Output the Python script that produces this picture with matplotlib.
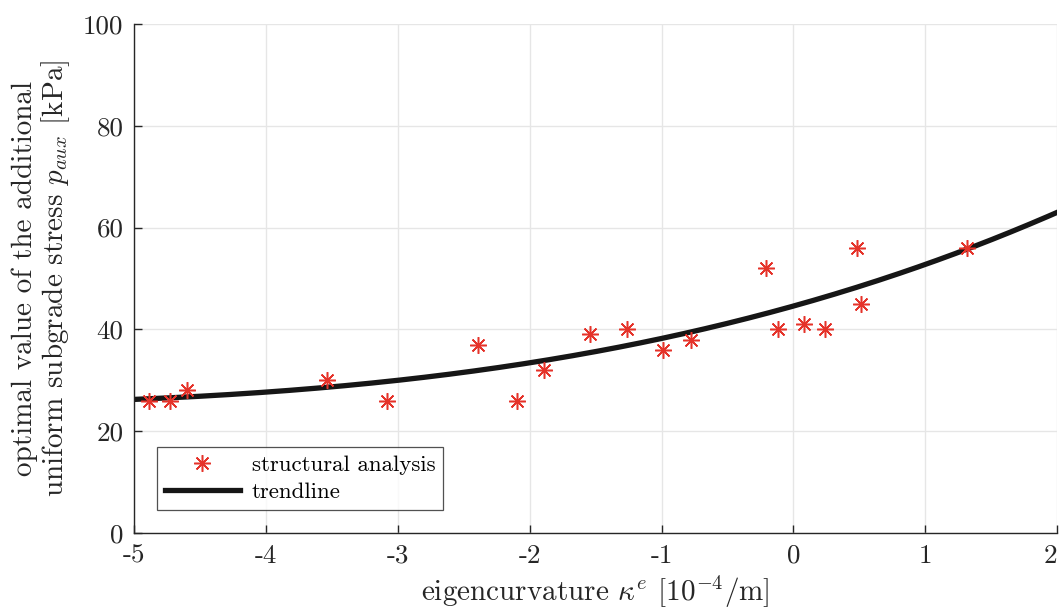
import numpy as np
import matplotlib
matplotlib.use("Agg")
import matplotlib.pyplot as plt
import matplotlib.transforms as mtransforms

# data
kappa = [-4.89, -4.73, -4.60, -3.54, -3.08, -2.39, -2.10, -1.89, -1.54, -1.26,
         -0.99, -0.78, -0.21, -0.12, 0.08, 0.24, 0.48, 0.51, 1.32]
p_aux = [26, 26, 28, 30, 26, 37, 26, 32, 39, 40,
         36, 38, 52, 40, 41, 40, 56, 45, 56]
# trendline values at the grid lines
trend_x = [-5, -4, -3, -2, -1, 0, 1, 2]
trend_y = [26.3, 27.6, 29.9, 33.7, 38.1, 44.6, 52.7, 63.0]

xticks = [-5, -4, -3, -2, -1, 0, 1, 2]
yticks = [0, 20, 40, 60, 80, 100]

plt.rcParams.update({
    "font.family": "serif",
    "font.serif": ["cmr10"],
    "mathtext.fontset": "cm",
    "axes.unicode_minus": False,
    "axes.formatter.use_mathtext": True,
})

fig = plt.figure(figsize=(10.59, 6.09), dpi=100)
ax = fig.add_axes([0.127, 0.1248, 0.871, 0.8358])

# smooth trendline through the read values (cubic least-squares)
coef = np.polyfit(trend_x, trend_y, 3)
xt = np.linspace(trend_x[0], trend_x[-1], 300)
yt = np.polyval(coef, xt)

ax.plot(kappa, p_aux, linestyle="none", marker=(8, 2, 0), markersize=12,
        markeredgewidth=1.1, color="#e5332a", label="structural analysis", zorder=3)
ax.plot(xt, yt, color="#161616", linewidth=3.8, label="trendline", zorder=2)

ax.set_xlim(-5, 2)
ax.set_ylim(0, 100)
ax.set_xticks(xticks)
ax.set_xticklabels([str(t) for t in xticks])
ax.set_yticks(yticks)
ax.set_yticklabels([str(t) for t in yticks])
ax.grid(True, color="#e6e6e6", linewidth=1.0)
ax.set_axisbelow(True)

for s in ["top", "right"]:
    ax.spines[s].set_visible(False)
for s in ["left", "bottom"]:
    ax.spines[s].set_color("#262626")
    ax.spines[s].set_linewidth(1.0)

ax.tick_params(direction="in", length=6, width=1.0, colors="#262626",
               labelsize=19.5, pad=8)
for lab in ax.get_xticklabels() + ax.get_yticklabels():
    lab.set_color("#262626")

# keep the last x tick label inside the figure
last = ax.get_xticklabels()[-1]
last.set_transform(last.get_transform() +
                   mtransforms.ScaledTranslation(-6 / 100, 0, fig.dpi_scale_trans))

ax.set_xlabel(r"eigencurvature $\kappa^e$ $[10^{-4}/\mathrm{m}]$", fontsize=21,
              color="#262626", labelpad=4)
ax.set_ylabel("optimal value of the additional\n"
              r"uniform subgrade stress $p_{aux}$ [kPa]", fontsize=21,
              color="#262626", labelpad=8, linespacing=1.05)

leg = ax.legend(loc="lower left", bbox_to_anchor=(0.024, 0.045), fontsize=16.5,
                frameon=True, fancybox=False, edgecolor="#262626",
                borderpad=0.35, handlelength=3.3, handletextpad=0.5,
                labelspacing=0.3, borderaxespad=0)
leg.get_frame().set_linewidth(0.9)

fig.savefig("out.png", dpi=100)
